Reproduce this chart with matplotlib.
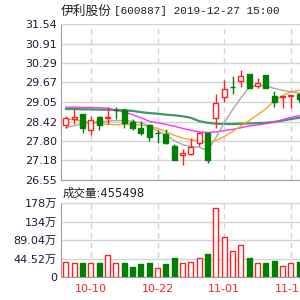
import matplotlib
matplotlib.use('Agg')
import matplotlib.pyplot as plt
import numpy as np

# ---- data ----
tick_pos = [3, 11, 19, 27]
tick_labels = ['10-10', '10-22', '11-01', '11-13']

opens  = [28.30, 28.51, 28.66, 28.15, 28.56, 28.54, 28.79, 28.80, 28.40, 28.20,
          28.30, 28.05, 28.02, 27.65, 27.34, 27.39, 27.72, 28.05, 28.54, 29.22,
          29.51, 29.72, 29.93, 29.55, 29.91, 29.24, 29.22, 29.25, 29.31]
highs  = [28.59, 28.83, 28.66, 28.59, 28.59, 28.88, 28.87, 28.85, 28.49, 28.43,
          28.33, 28.14, 28.17, 27.70, 27.55, 27.89, 28.10, 28.05, 29.29, 29.76,
          29.87, 30.08, 29.95, 29.81, 29.91, 29.40, 29.25, 29.28, 29.33]
lows   = [28.20, 28.33, 28.05, 27.99, 28.14, 28.33, 28.51, 28.22, 28.14, 27.98,
          27.81, 27.72, 27.70, 27.18, 27.02, 27.34, 27.65, 27.08, 28.22, 29.06,
          29.29, 29.51, 29.48, 29.48, 29.48, 28.88, 28.86, 28.86, 29.05]
closes = [28.54, 28.56, 28.22, 28.46, 28.31, 28.57, 28.79, 28.36, 28.22, 28.05,
          27.91, 28.05, 27.72, 27.20, 27.41, 27.62, 28.05, 27.20, 29.01, 29.45,
          29.51, 29.87, 29.50, 29.66, 29.50, 29.03, 29.24, 29.27, 29.15]

ma5  = [28.22, 28.29, 28.35, 28.39, 28.42, 28.43, 28.45, 28.46, 28.43, 28.38,
        28.27, 28.12, 27.99, 27.81, 27.68, 27.62, 27.60, 27.49, 27.91, 28.38,
        28.80, 29.18, 29.51, 29.58, 29.56, 29.48, 29.42, 29.37, 29.33]
ma10 = [28.51, 28.47, 28.43, 28.39, 28.36, 28.33, 28.32, 28.33, 28.33, 28.31,
        28.27, 28.20, 28.09, 27.98, 27.89, 27.84, 27.80, 27.75, 27.81, 27.94,
        28.10, 28.28, 28.45, 28.64, 28.83, 29.08, 29.25, 29.37, 29.42]
ma20 = [28.88, 28.88, 28.87, 28.87, 28.86, 28.85, 28.78, 28.72, 28.64, 28.54,
        28.43, 28.38, 28.33, 28.27, 28.20, 28.14, 28.09, 28.07, 28.09, 28.13,
        28.17, 28.22, 28.28, 28.31, 28.35, 28.40, 28.48, 28.55, 28.61]
ma30 = [28.82, 28.82, 28.81, 28.81, 28.80, 28.80, 28.79, 28.78, 28.76, 28.72,
        28.69, 28.67, 28.64, 28.62, 28.59, 28.54, 28.43, 28.38, 28.35, 28.34,
        28.34, 28.35, 28.36, 28.37, 28.38, 28.41, 28.45, 28.50, 28.54]

volumes = [37.5, 35.1, 33.7, 35.1, 33.7, 53.7, 33.7, 33.7, 24.1, 31.3,
           33.7, 23.1, 31.3, 45.7, 35.1, 37.5, 45.7, 56.1, 166.0, 97.7,
           64.0, 77.7, 45.7, 35.1, 35.1, 39.9, 27.9, 33.7, 37.5]

price_ticks = [26.55, 27.18, 27.80, 28.42, 29.05, 29.67, 30.29, 30.91, 31.54]
price_tick_labels = ['26.55', '27.18', '27.80', '28.42', '29.05', '29.67', '30.29', '30.91', '31.54']
vol_ticks = [0, 44.52, 89.04, 133.56, 178.08]
vol_tick_labels = ['0', '44.52万', '89.04万', '134万', '178万']

title_name = '伊利股份'
title_rest = '[600887] 2019-12-27 15:00'
vol_label = '成交量:455498'

# ---- style ----
RED = '#ff2020'
GREEN = '#008000'
GRID = '#d4d4d4'
SPINE = '#a0a0a0'
LABEL = '#1a1a3a'

plt.rcParams['font.family'] = ['DejaVu Sans', 'Noto Sans CJK SC']

fig = plt.figure(figsize=(3, 3), dpi=100)
fig.patch.set_facecolor('white')

ax = fig.add_axes([61/300, 1-180/300, 1-61/300, (180-24)/300])
axv = fig.add_axes([61/300, 1-277.3/300, 1-61/300, (277.3-203.3)/300])

x = np.arange(len(opens))
o = np.array(opens); c = np.array(closes); h = np.array(highs); l = np.array(lows)
up = c > o
vol_up = c >= o

# price candles
wick_cols = [RED if u else GREEN for u in up]
ax.vlines(x, l, h, colors=wick_cols, linewidth=1, zorder=3)
body_bottom = np.minimum(o, c)
body_h = np.abs(c - o)
face = ['white' if u else GREEN for u in up]
ax.bar(x, body_h, bottom=body_bottom, width=0.6, color=face,
       edgecolor=wick_cols, linewidth=1, zorder=4)

# moving averages
ax.plot(x, ma30, color='#3c9a64', linewidth=1.6, zorder=2)
ax.plot(x, ma20, color='#ff30ff', linewidth=1.0, zorder=2)
ax.plot(x, ma10, color='#f5a623', linewidth=1.0, zorder=2)
ax.plot(x, ma5, color='#a8a8a8', linewidth=1.0, zorder=2)

ax.set_xlim(-0.6, 28.09)
ax.set_ylim(26.55, 31.54)
ax.set_yticks(price_ticks)
ax.set_yticklabels(price_tick_labels)
ax.set_xticks(tick_pos)
ax.set_xticklabels([])
ax.tick_params(axis='both', length=0, pad=3, labelsize=8, labelcolor=LABEL)
ax.grid(axis='y', color=GRID, linewidth=1, linestyle='-', zorder=0)
ax.grid(axis='x', color=GRID, linewidth=1, linestyle=(0, (4, 3)), zorder=0)
for s in ['right']:
    ax.spines[s].set_visible(False)
for s in ['left', 'bottom', 'top']:
    ax.spines[s].set_color(SPINE)
ax.spines['top'].set_color(GRID)

# volume
vcols = [RED if u else GREEN for u in vol_up]
vface = ['white' if u else GREEN for u in vol_up]
axv.bar(x, volumes, width=0.6, color=vface, edgecolor=vcols, linewidth=1, zorder=3)
axv.set_xlim(-0.6, 28.09)
axv.set_ylim(0, 178.08)
axv.set_yticks(vol_ticks)
axv.set_yticklabels(vol_tick_labels)
axv.set_xticks(tick_pos)
axv.set_xticklabels(tick_labels)
axv.tick_params(axis='both', length=0, labelsize=8, labelcolor=LABEL)
axv.tick_params(axis='y', pad=3)
axv.tick_params(axis='x', pad=5, labelcolor=RED)
axv.grid(axis='y', color=GRID, linewidth=1, linestyle='-', zorder=0)
axv.grid(axis='x', color=GRID, linewidth=1, linestyle=(0, (4, 3)), zorder=0)
axv.spines['right'].set_visible(False)
for s in ['left', 'bottom']:
    axv.spines[s].set_color(SPINE)
axv.spines['top'].set_color(GRID)

# texts
fig.text(61/300, 1-11/300, title_name, family=['Noto Sans CJK SC'], fontsize=9.2,
         va='center', ha='left', color='#202020')
fig.text(114/300, 1-11/300, title_rest, family=['Liberation Mono', 'DejaVu Sans Mono'],
         fontsize=7.9, va='center', ha='left', color='#202020')
fig.text(63/300, 1-193/300, vol_label, family=['DejaVu Sans', 'Noto Sans CJK SC'],
         fontsize=8.3, va='center', ha='left', color='#202020')

fig.savefig('out.png', dpi=100, facecolor='white')
